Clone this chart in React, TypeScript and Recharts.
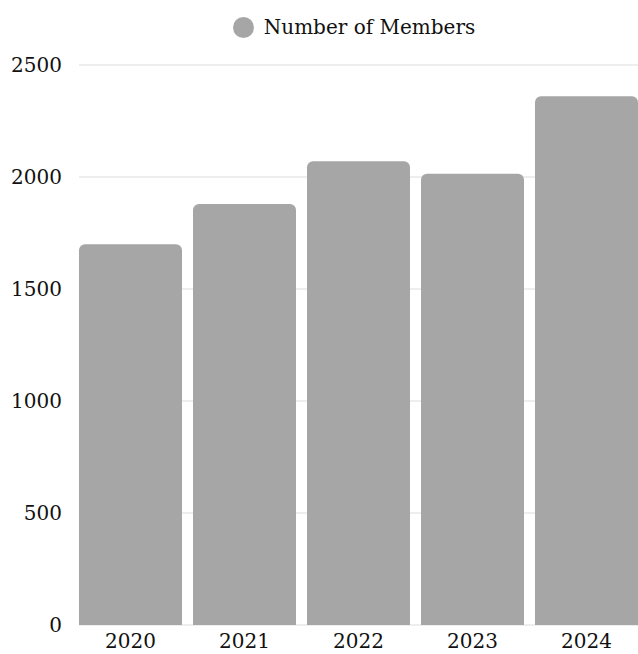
import { BarChart, Bar, XAxis, YAxis, CartesianGrid, Legend } from 'recharts'

const years = ['2020', '2021', '2022', '2023', '2024']
const members = [1700, 1880, 2070, 2015, 2360]
const yTicks = [0, 500, 1000, 1500, 2000, 2500]

const data = years.map((year, i) => ({ year, members: members[i] }))

const font = '"DejaVu Serif", serif'

// legend sits centred over the plot area, not the whole chart
const LegendContent = () => (
  <div
    style={{
      height: 65,
      display: 'flex',
      justifyContent: 'center',
      alignItems: 'flex-start',
      paddingTop: 15,
      paddingLeft: 70,
      boxSizing: 'border-box',
      fontFamily: font,
      fontSize: 20,
      color: '#111',
    }}
  >
    <div style={{ display: 'flex', alignItems: 'center', gap: 10 }}>
      <span style={{ width: 21, height: 21, borderRadius: '50%', background: '#a6a6a6', display: 'inline-block' }} />
      <span>Number of Members</span>
    </div>
  </div>
)

export default function App() {
  return (
    <div style={{ position: 'absolute', left: 0, top: 0 }}>
      <BarChart
        width={638}
        height={654}
        data={data}
        margin={{ top: 0, right: 0, bottom: 0, left: 0 }}
        barCategoryGap={5.5}
      >
        <Legend verticalAlign="top" content={<LegendContent />} />
        <CartesianGrid vertical={false} stroke="#dddddd" />
        <XAxis
          dataKey="year"
          height={29}
          axisLine={false}
          tickLine={false}
          tickMargin={3}
          padding={{ left: -5.5, right: -5.5 }}
          tick={{ fontFamily: font, fontSize: 20, fill: '#111' }}
        />
        <YAxis
          width={79}
          domain={[0, 2500]}
          ticks={yTicks}
          axisLine={false}
          tickLine={false}
          tickMargin={11}
          tick={{ fontFamily: font, fontSize: 20, fill: '#111' }}
        />
        <Bar dataKey="members" name="Number of Members" fill="#a6a6a6" radius={[6, 6, 0, 0]} isAnimationActive={false} />
      </BarChart>
    </div>
  )
}
